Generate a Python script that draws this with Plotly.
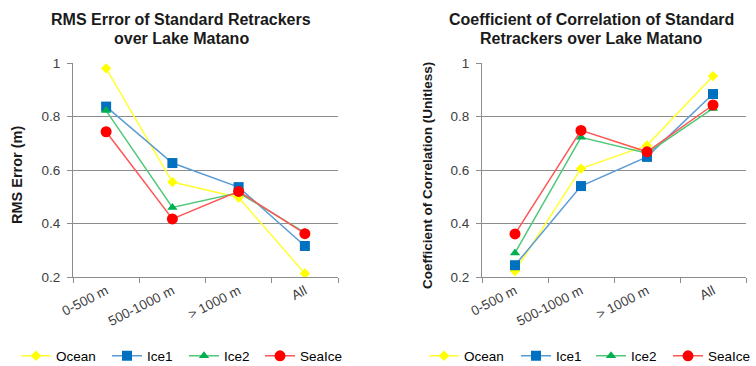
import plotly.graph_objects as go

# Elevation bands used on both panels
categories = ["0-500 m", "500-1000 m", "> 1000 m", "All"]
series_names = ["Ocean", "Ice1", "Ice2", "SeaIce"]

# RMS error (m) per retracker
rms_ocean = [0.98, 0.555, 0.497, 0.213]
rms_ice1 = [0.837, 0.626, 0.536, 0.316]
rms_ice2 = [0.822, 0.460, 0.515, 0.366]
rms_seaice = [0.743, 0.417, 0.520, 0.362]

# Coefficient of correlation per retracker
cor_ocean = [0.222, 0.605, 0.692, 0.951]
cor_ice1 = [0.244, 0.540, 0.649, 0.884]
cor_ice2 = [0.290, 0.722, 0.663, 0.830]
cor_seaice = [0.361, 0.748, 0.668, 0.843]

y_ticks = [0.2, 0.4, 0.6, 0.8, 1.0]
y_tick_labels = ["0.2", "0.4", "0.6", "0.8", "1"]

FONT = "Liberation Sans, Arial, sans-serif"
styles = {
    "Ocean": dict(line="#FFFF33", marker="#FFFF00", symbol="diamond", size=8),
    "Ice1": dict(line="#5B9BD5", marker="#0070C0", symbol="square", size=10),
    "Ice2": dict(line="#50C878", marker="#00B050", symbol="triangle-up", size=9),
    "SeaIce": dict(line="#FF5555", marker="#FF0000", symbol="circle", size=11),
}

W, H = 756, 366

# Left edge (px) of each legend entry's line sample, per panel
legend_x_left = [22, 113, 190, 266]
legend_x_right = [430, 522, 597, 674]

fig = go.Figure()
legend_layouts = {}

panels = [
    ("x", "y", [rms_ocean, rms_ice1, rms_ice2, rms_seaice], legend_x_left),
    ("x2", "y2", [cor_ocean, cor_ice1, cor_ice2, cor_seaice], legend_x_right),
]
n = 0
for xa, ya, data, lx in panels:
    for name, vals, px in zip(series_names, data, lx):
        n += 1
        lg = "legend" if n == 1 else f"legend{n}"
        st = styles[name]
        fig.add_trace(go.Scatter(
            x=categories, y=vals, name=name, xaxis=xa, yaxis=ya, legend=lg,
            mode="lines+markers", showlegend=True,
            line=dict(color=st["line"], width=1.5),
            marker=dict(color=st["marker"], symbol=st["symbol"], size=st["size"],
                        line=dict(width=0)),
        ))
        legend_layouts[lg] = dict(
            orientation="h", yanchor="middle", y=1 - 356 / H,
            xanchor="left", x=(px - 6) / W,
            font=dict(family=FONT, size=13.5, color="#000000"),
            itemwidth=30, bgcolor="rgba(0,0,0,0)",
        )

y_bottom = (H - 277) / H
y_top = (H - 63) / H

common_x = dict(
    type="category", range=[-0.5, len(categories) - 0.5],
    tickson="boundaries", ticks="outside", ticklen=5,
    tickcolor="#8c8c8c", showline=True, linecolor="#8c8c8c", linewidth=1,
    showgrid=False, tickangle=-27, zeroline=False, automargin=False,
    tickfont=dict(family=FONT, size=13.5, color="#404040"),
)
common_y = dict(
    range=[0.2, 1.0], tickvals=y_ticks, ticktext=y_tick_labels,
    ticks="outside", ticklen=5, tickcolor="#8c8c8c", ticklabelstandoff=4,
    showline=True, linecolor="#8c8c8c", linewidth=1,
    showgrid=True, gridcolor="#8c8c8c", gridwidth=1, zeroline=False,
    automargin=False,
    tickfont=dict(family=FONT, size=13.5, color="#404040"),
    domain=[y_bottom, y_top],
)


def text_note(text, x, y, size, angle=0):
    return dict(text=text, textangle=angle, x=x / W, y=1 - y / H,
                xref="paper", yref="paper", xanchor="center", yanchor="middle",
                showarrow=False, font=dict(family=FONT, size=size, color="#1a1a1a"))


fig.update_layout(
    width=W, height=H, showlegend=True,
    margin=dict(l=0, r=0, t=0, b=0, autoexpand=False),
    paper_bgcolor="white", plot_bgcolor="white",
    font=dict(family=FONT, color="#000000"),
    xaxis=dict(common_x, domain=[73 / W, 338 / W], anchor="y"),
    yaxis=dict(common_y, anchor="x"),
    xaxis2=dict(common_x, domain=[482 / W, 746 / W], anchor="y2"),
    yaxis2=dict(common_y, anchor="x2"),
    annotations=[
        text_note("<b>RMS Error of Standard Retrackers</b>", 181, 20, 16),
        text_note("<b>over Lake Matano</b>", 181, 38, 16),
        text_note("<b>Coefficient of Correlation of Standard</b>", 591, 20, 16),
        text_note("<b>Retrackers over Lake Matano</b>", 591, 38, 16),
        text_note("<b>RMS Error (m)</b>", 17, 175, 14.5, -90),
        text_note("<b>Coefficient of Correlation (Unitless)</b>", 427, 175, 13.5, -90),
    ],
    **legend_layouts,
)

fig.write_html("out.html")
